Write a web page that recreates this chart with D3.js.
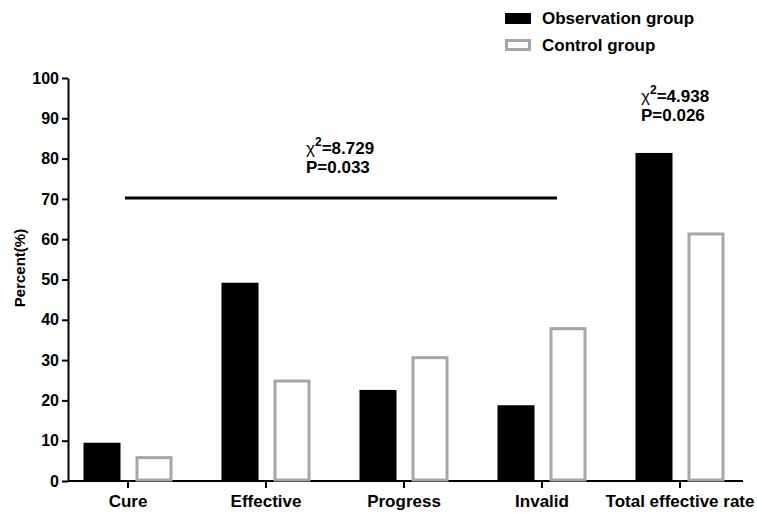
<!DOCTYPE html>
<html>
<head>
<meta charset="utf-8">
<script src="https://cdn.jsdelivr.net/npm/d3@7"></script>
<style>
  body { margin: 0; background: #fff; }
  text { font-family: "Liberation Sans", Arial, sans-serif; font-weight: bold; fill: #000; }
</style>
</head>
<body>
<div id="chart"></div>
<script>
// chart data
const categories = ["Cure", "Effective", "Progress", "Invalid", "Total effective rate"];
const seriesNames = ["Observation group", "Control group"];
const observation = [9.5, 49.2, 22.6, 18.8, 81.4];
const control = [5.8, 24.8, 30.6, 37.8, 61.3];
const yTicks = [0, 10, 20, 30, 40, 50, 60, 70, 80, 90, 100];
const stats = [
    {chi: "8.729", p: "0.033"},
    {chi: "4.938", p: "0.026"}
];

const width = 757, height = 513;

const svg = d3.select("#chart").append("svg")
    .attr("width", width)
    .attr("height", height);

// scales
const x = d3.scaleBand()
    .domain(categories)
    .range([59, 749]);

const y = d3.scaleLinear()
    .domain([0, 100])
    .range([481, 78]);

const barW = 37;
const offset = 26;

// y axis
const yAxis = svg.append("g")
    .attr("transform", "translate(68,0)")
    .call(d3.axisLeft(y).tickValues(yTicks).tickSize(6).tickSizeOuter(0).tickPadding(3));
yAxis.selectAll("text").style("font-size", "16px");

// x axis
const xAxis = svg.append("g")
    .attr("transform", "translate(0,481)")
    .call(d3.axisBottom(x).tickSize(7).tickSizeOuter(0).tickPadding(7));
xAxis.select(".domain").attr("d", "M68,0H743");
xAxis.selectAll("text").style("font-size", "17px");

svg.selectAll(".domain, .tick line")
    .attr("stroke", "#000")
    .attr("stroke-width", 2);

// y label
svg.append("text")
    .attr("transform", "translate(25,268) rotate(-90)")
    .attr("text-anchor", "middle")
    .style("font-size", "15px")
    .text("Percent(%)");

// bars
svg.append("g").selectAll("rect")
    .data(observation)
    .join("rect")
    .attr("x", (d, i) => x(categories[i]) + x.bandwidth() / 2 - offset - barW / 2)
    .attr("y", d => y(d))
    .attr("width", barW)
    .attr("height", d => y(0) - y(d))
    .attr("fill", "#000");

svg.append("g").selectAll("rect")
    .data(control)
    .join("rect")
    .attr("x", (d, i) => x(categories[i]) + x.bandwidth() / 2 + offset - barW / 2 + 1.5)
    .attr("y", d => y(d))
    .attr("width", barW - 3)
    .attr("height", d => y(0) - y(d) - 1)
    .attr("fill", "#fff")
    .attr("stroke", "#a6a6a6")
    .attr("stroke-width", 3);

// significance bracket over first four groups
svg.append("line")
    .attr("x1", x("Cure") + x.bandwidth() / 2 - 3)
    .attr("x2", x("Invalid") + x.bandwidth() / 2 + 15)
    .attr("y1", y(70.2))
    .attr("y2", y(70.2))
    .attr("stroke", "#000")
    .attr("stroke-width", 3);

function statLabel(xPos, yPos, s) {
    const t = svg.append("text")
        .attr("x", xPos)
        .attr("y", yPos)
        .style("font-size", "17px");
    t.append("tspan").style("font-weight", "normal").text("χ");
    t.append("tspan").attr("dy", -8).style("font-size", "12px").text("2");
    t.append("tspan").attr("dy", 8).text("=" + s.chi);
    svg.append("text")
        .attr("x", xPos)
        .attr("y", yPos + 19)
        .style("font-size", "17px")
        .text("P=" + s.p);
}
statLabel(306, 154, stats[0]);
statLabel(641, 102, stats[1]);

// legend
const legend = svg.append("g");
legend.append("rect")
    .attr("x", 505).attr("y", 13).attr("width", 26).attr("height", 11)
    .attr("fill", "#000");
legend.append("rect")
    .attr("x", 506.5).attr("y", 40.5).attr("width", 23).attr("height", 9)
    .attr("fill", "#fff").attr("stroke", "#a6a6a6").attr("stroke-width", 3);
legend.selectAll("text.leg")
    .data(seriesNames)
    .join("text")
    .attr("class", "leg")
    .attr("x", 542)
    .attr("y", (d, i) => 24 + i * 27)
    .style("font-size", "17px")
    .text(d => d);
</script>
</body>
</html>
